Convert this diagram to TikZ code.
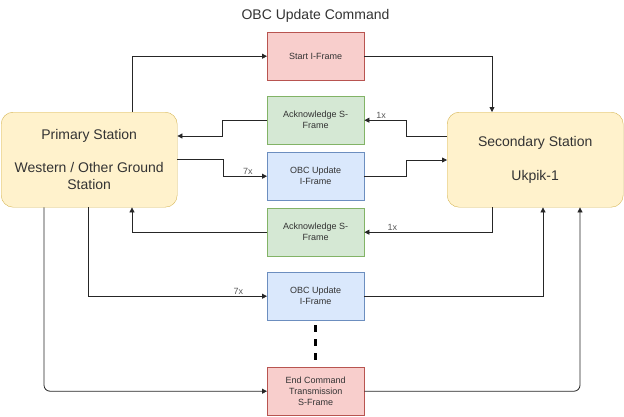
\documentclass[tikz,border=0pt]{standalone}
\usepackage{fontspec}
\setmainfont{Liberation Sans}
\usetikzlibrary{arrows.meta}
\definecolor{yfill}{HTML}{FFF2CC}\definecolor{ydraw}{HTML}{D6B656}
\definecolor{rfill}{HTML}{F8CECC}\definecolor{rdraw}{HTML}{B85450}
\definecolor{gfill}{HTML}{D5E8D4}\definecolor{gdraw}{HTML}{82B366}
\definecolor{bfill}{HTML}{DAE8FC}\definecolor{bdraw}{HTML}{6C8EBF}
\definecolor{txt}{HTML}{333333}
\begin{document}
\begin{tikzpicture}[x={(1pt,0)},y={(0,-1pt)},
  station/.style={draw=ydraw,fill=yfill,rounded corners=12pt,minimum width=176pt,minimum height=95pt,
    anchor=north west,align=center,text=txt,font=\fontsize{14}{16.5}\selectfont,inner sep=0pt},
  frame/.style={minimum width=97pt,minimum height=48pt,anchor=north west,align=center,text=txt,
    font=\fontsize{9}{11}\selectfont,inner sep=0pt},
  redf/.style={frame,draw=rdraw,fill=rfill},
  greenf/.style={frame,draw=gdraw,fill=gfill},
  bluef/.style={frame,draw=bdraw,fill=bfill},
  arr/.style={draw=black!85,line width=0.8pt,-{Triangle[length=5pt,width=5pt]}},
  lbl/.style={font=\fontsize{9}{11}\selectfont,text=black!65,inner sep=1.5pt}]
\useasboundingbox (0,0) rectangle (624,416);
\node[text=txt,font=\fontsize{14}{16}\selectfont] (title) at (315.5,16) {OBC Update Command};
\node[station] (prim) at (1,112) {Primary Station\\[16.5pt]Western / Other Ground\\Station};
\node[station] (sec) at (447,112) {Secondary Station\\[17.5pt]Ukpik-1};
\node[redf] (start) at (267,32) {Start I-Frame};
\node[greenf] (ack1) at (267,96) {Acknowledge S-\\Frame};
\node[bluef] (obc1) at (267,152) {OBC Update\\I-Frame};
\node[greenf] (ack2) at (267,208) {Acknowledge S-\\Frame};
\node[bluef] (obc2) at (267,272) {OBC Update\\I-Frame};
\node[redf] (endf) at (267,367) {End Command\\Transmission\\S-Frame};
% connectors
\draw[arr] ([xshift=131pt]prim.north west) |- (start.west);
\draw[arr] (start.east) -| ([xshift=45pt]sec.north west);
\draw[arr] ([yshift=-24pt]sec.north west) -- ++(-41,0) |- node[lbl,pos=0.8,above]{1x} (ack1.east);
\draw[arr] (ack1.west) -- ++(-45,0) |- ([yshift=-24pt]prim.north east);
\draw[arr] ([yshift=-47pt]prim.north east) -- ++(46,0) |- node[lbl,pos=0.78,above]{7x} (obc1.west);
\draw[arr] (obc1.east) -- ++(42,0) |- ([yshift=-48pt]sec.north west);
\draw[arr] ([xshift=45pt]sec.south west) |- node[lbl,pos=0.89,above]{1x} (ack2.east);
\draw[arr] (ack2.west) -| ([xshift=131pt]prim.south west);
\draw[arr] ([xshift=87pt]prim.south west) |- node[lbl,pos=0.92,above]{7x} (obc2.west);
\draw[arr] (obc2.east) -| ([xshift=96pt]sec.south west);
\draw[arr,rounded corners=6pt] ([xshift=43pt]prim.south west) |- (endf.west);
\draw[arr,rounded corners=6pt] (endf.east) -| ([xshift=133pt]sec.south west);
\draw[line width=3pt,dash pattern=on 7pt off 7pt,dash phase=-5pt] (obc2.south) -- (endf.north);
\end{tikzpicture}
\end{document}
